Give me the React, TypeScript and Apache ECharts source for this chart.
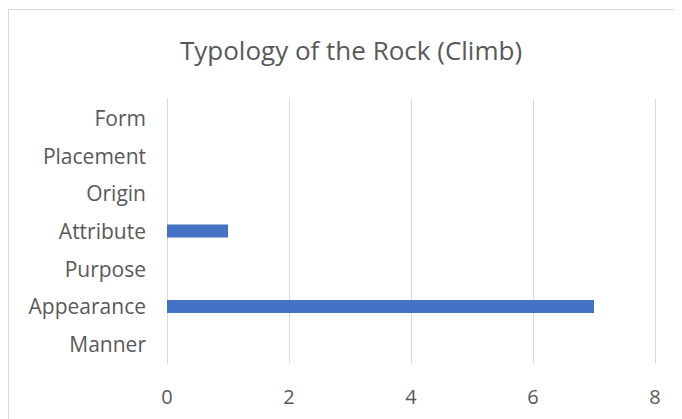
import React, { useEffect, useRef } from "react";
import * as echarts from "echarts";

const categories = ["Manner", "Appearance", "Purpose", "Attribute", "Origin", "Placement", "Form"];
const values = [0, 7, 0, 1, 0, 0, 0];
const titleText = "Typology of the Rock (Climb)";

const FONT = "Open Sans";

export default function App() {
  const ref = useRef<HTMLDivElement>(null);
  useEffect(() => {
    if (!ref.current) return;
    const chart = echarts.init(ref.current, null, { renderer: "svg" });
    chart.setOption({
      animation: false,
      backgroundColor: "#ffffff",
      title: {
        text: titleText,
        left: 338,
        top: 24,
        textAlign: "center",
        textStyle: { fontFamily: FONT, fontSize: 26, fontWeight: "normal", color: "#595959" },
      },
      graphic: [
        {
          type: "rect",
          shape: { x: 0.5, y: 1.5, width: 800, height: 600 },
          style: { fill: "none", stroke: "#d9d9d9", lineWidth: 1 },
          silent: true,
        },
      ],
      grid: { left: 159, right: 27, top: 91, bottom: 56 },
      xAxis: {
        type: "value",
        min: 0,
        max: 8,
        interval: 2,
        axisLine: { show: false },
        axisTick: { show: false },
        splitLine: { lineStyle: { color: "#d9d9d9", width: 1 } },
        axisLabel: { fontFamily: FONT, fontSize: 20, color: "#595959", margin: 23 },
      },
      yAxis: {
        type: "category",
        data: categories,
        axisLine: { show: true, lineStyle: { color: "#d9d9d9", width: 1 } },
        axisTick: { show: false },
        axisLabel: { fontFamily: FONT, fontSize: 21, color: "#595959", margin: 21 },
      },
      series: [
        {
          type: "bar",
          data: values,
          barWidth: 13,
          itemStyle: { color: "#4472c4" },
        },
      ],
    });
    return () => chart.dispose();
  }, []);
  return <div ref={ref} style={{ width: 674, height: 411 }} />;
}
